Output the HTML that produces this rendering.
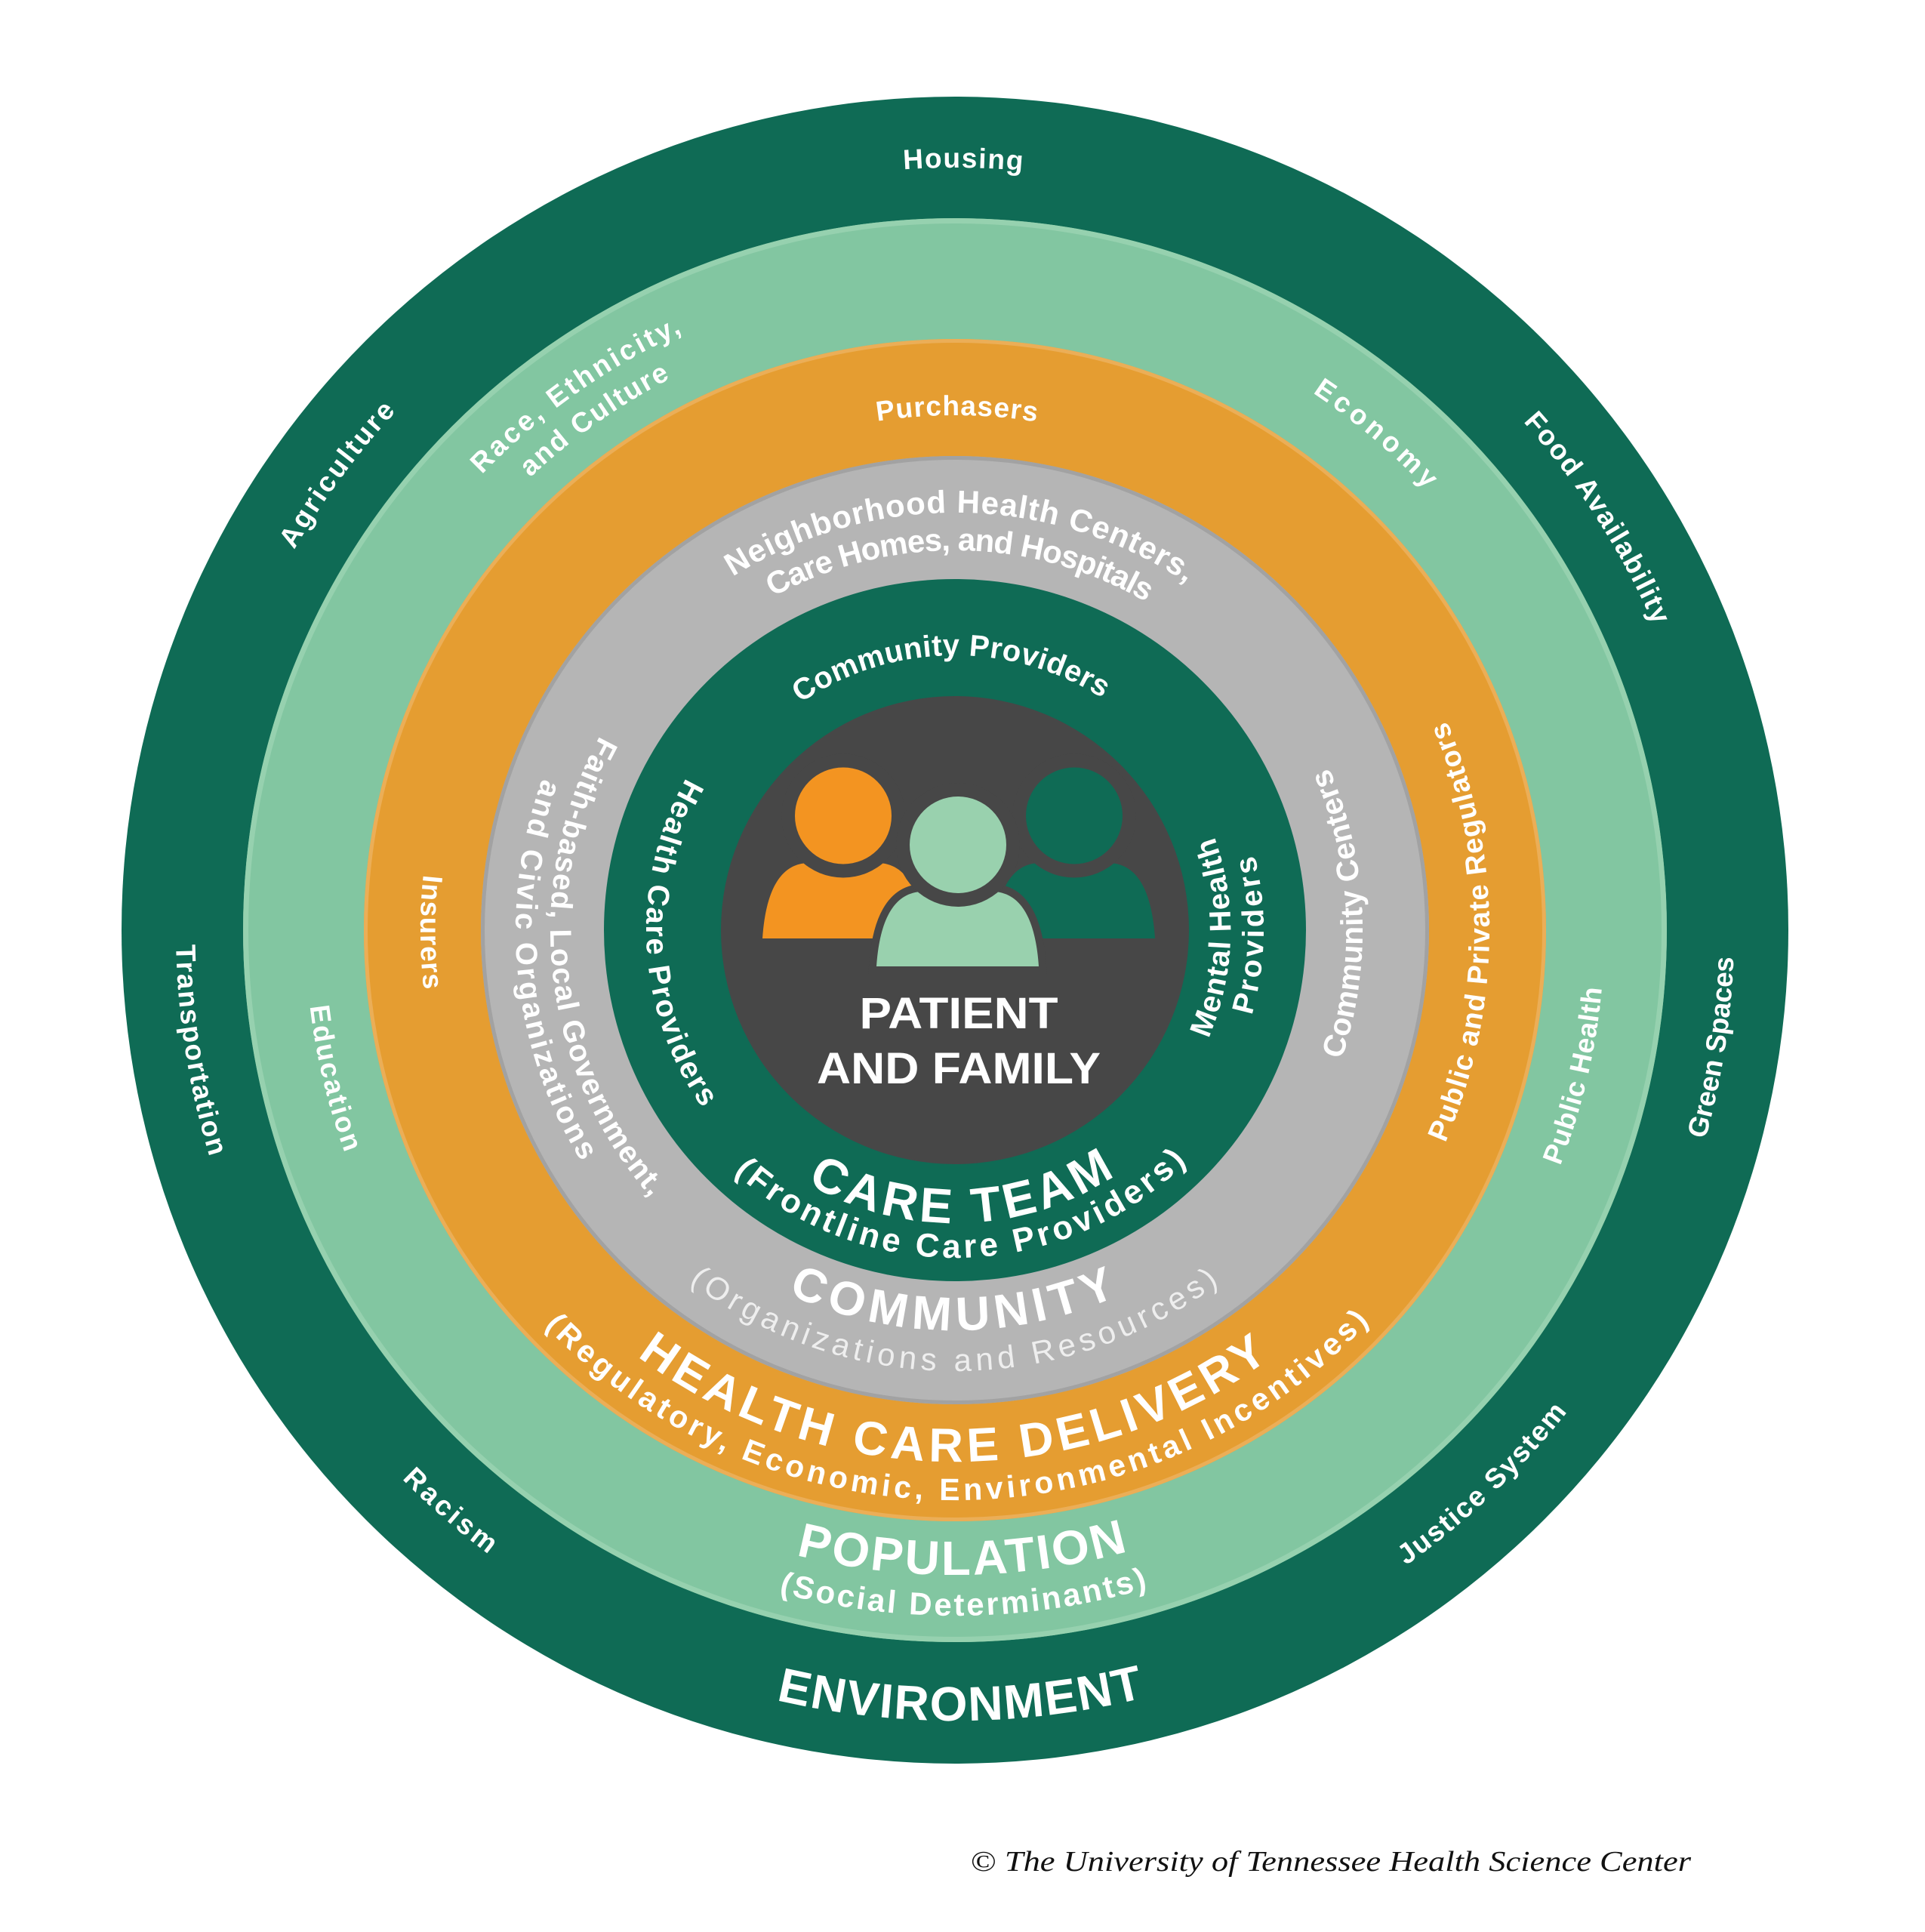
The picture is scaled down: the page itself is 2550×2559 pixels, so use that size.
<!DOCTYPE html>
<html>
<head>
<meta charset="utf-8">
<style>
  html, body { margin: 0; padding: 0; background: #ffffff; }
  svg { display: block; }
  .lbl { font-family: "Liberation Sans", Arial, sans-serif; font-weight: bold; fill: #ffffff; }
</style>
</head>
<body>
<svg width="2550" height="2559" viewBox="0 0 2550 2559" xmlns="http://www.w3.org/2000/svg">
  <rect x="0" y="0" width="2550" height="2559" fill="#ffffff"/>

  <defs>
    <!-- Top-style (clockwise, start at bottom; top = 50%) -->
    <path id="T1010" d="M1265,2242 A1010,1010 0 1,1 1265,222 A1010,1010 0 1,1 1265,2242"/>
    <path id="T870" d="M1265,2102 A870,870 0 1,1 1265,362 A870,870 0 1,1 1265,2102"/>
    <path id="T822" d="M1265,2054 A822,822 0 1,1 1265,410 A822,822 0 1,1 1265,2054"/>
    <path id="T855" d="M1265,2087 A855,855 0 1,1 1265,377 A855,855 0 1,1 1265,2087"/>
    <path id="T682" d="M1265,1914 A682,682 0 1,1 1265,550 A682,682 0 1,1 1265,1914"/>
    <path id="T553" d="M1265,1785 A553,553 0 1,1 1265,679 A553,553 0 1,1 1265,1785"/>
    <path id="T503" d="M1265,1735 A503,503 0 1,1 1265,729 A503,503 0 1,1 1265,1735"/>
    <path id="T364" d="M1265,1596 A364,364 0 1,1 1265,868 A364,364 0 1,1 1265,1596"/>

    <!-- Bottom-style (counter-clockwise, start at top; bottom = 50%) -->
    <path id="B1032" d="M1265,200 A1032,1032 0 1,0 1265,2264 A1032,1032 0 1,0 1265,200"/>
    <path id="B1047" d="M1265,185 A1047,1047 0 1,0 1265,2279 A1047,1047 0 1,0 1265,185"/>
    <path id="B908" d="M1265,324 A908,908 0 1,0 1265,2140 A908,908 0 1,0 1265,324"/>
    <path id="B860" d="M1265,372 A860,860 0 1,0 1265,2092 A860,860 0 1,0 1265,372"/>
    <path id="B854" d="M1265,378 A854,854 0 1,0 1265,2086 A854,854 0 1,0 1265,378"/>
    <path id="B755" d="M1265,477 A755,755 0 1,0 1265,1987 A755,755 0 1,0 1265,477"/>
    <path id="B708" d="M1265,524 A708,708 0 1,0 1265,1940 A708,708 0 1,0 1265,524"/>
    <path id="B704" d="M1265,528 A704,704 0 1,0 1265,1936 A704,704 0 1,0 1265,528"/>
    <path id="B584" d="M1265,648 A584,584 0 1,0 1265,1816 A584,584 0 1,0 1265,648"/>
    <path id="B582" d="M1265,650 A582,582 0 1,0 1265,1814 A582,582 0 1,0 1265,650"/>
    <path id="B540" d="M1265,692 A540,540 0 1,0 1265,1772 A540,540 0 1,0 1265,692"/>
    <path id="B536" d="M1265,696 A536,536 0 1,0 1265,1768 A536,536 0 1,0 1265,696"/>
    <path id="B530" d="M1265,702 A530,530 0 1,0 1265,1762 A530,530 0 1,0 1265,702"/>
    <path id="B434" d="M1265,798 A434,434 0 1,0 1265,1666 A434,434 0 1,0 1265,798"/>
    <path id="B409" d="M1265,823 A409,409 0 1,0 1265,1641 A409,409 0 1,0 1265,823"/>
    <path id="B388" d="M1265,844 A388,388 0 1,0 1265,1620 A388,388 0 1,0 1265,844"/>
    <path id="B365" d="M1265,867 A365,365 0 1,0 1265,1597 A365,365 0 1,0 1265,867"/>
  </defs>

  <!-- Rings -->
  <circle cx="1265" cy="1232" r="1104" fill="#0F6B55"/>
  <circle cx="1265" cy="1232" r="943" fill="#82C6A1"/>
  <circle cx="1265" cy="1232" r="939.5" fill="none" stroke="#96D1AF" stroke-width="7"/>
  <circle cx="1265" cy="1232" r="783" fill="#E59D31"/>
  <circle cx="1265" cy="1232" r="780.5" fill="none" stroke="#EBAE57" stroke-width="5"/>
  <circle cx="1265" cy="1232" r="628" fill="#B5B5B5"/>
  <circle cx="1265" cy="1232" r="625.5" fill="none" stroke="#A2A2A2" stroke-width="5"/>
  <circle cx="1265" cy="1232" r="465" fill="#0F6B55"/>
  <circle cx="1265" cy="1232" r="310" fill="#474747"/>

  <!-- People icons -->
  <path d="M1010,1243 C1014,1183 1032,1143 1072,1143 L1162,1143 C1202,1143 1220,1183 1224,1243 Z" fill="#F39421"/>
  <circle cx="1117" cy="1080.5" r="82" fill="#474747"/>
  <circle cx="1117" cy="1080.5" r="64" fill="#F39421"/>
  <path d="M1316,1243 C1320,1183 1338,1143 1378,1143 L1468,1143 C1508,1143 1526,1183 1530,1243 Z" fill="#0F6B55"/>
  <circle cx="1423" cy="1080.5" r="82" fill="#474747"/>
  <circle cx="1423" cy="1080.5" r="64" fill="#0F6B55"/>
  <path d="M1161,1280 C1165,1221 1183,1181 1223,1181 L1314,1181 C1354,1181 1372,1221 1376,1280 Z" fill="#99D1AE" stroke="#474747" stroke-width="20" paint-order="stroke"/>
  <circle cx="1269" cy="1119" r="82" fill="#474747"/>
  <circle cx="1269" cy="1119" r="64" fill="#99D1AE"/>

  <!-- Center text -->
  <text class="lbl" x="1270" y="1362" font-size="58" text-anchor="middle" textLength="263" lengthAdjust="spacingAndGlyphs">PATIENT</text>
  <text class="lbl" x="1270" y="1435" font-size="58" text-anchor="middle" textLength="376" lengthAdjust="spacingAndGlyphs">AND FAMILY</text>

  <!-- Outer ring labels -->
  <text class="lbl" font-size="37"><textPath href="#T1010" startOffset="50.17%" text-anchor="middle" textLength="158">Housing</textPath></text>
  <text class="lbl" font-size="37"><textPath href="#T1010" startOffset="35.11%" text-anchor="middle" textLength="228">Agriculture</textPath></text>
  <text class="lbl" font-size="37"><textPath href="#T1010" startOffset="65.92%" text-anchor="middle" textLength="322">Food Availability</textPath></text>
  <text class="lbl" font-size="37"><textPath href="#B1032" startOffset="27.5%" text-anchor="middle" textLength="285">Transportation</textPath></text>
  <text class="lbl" font-size="37"><textPath href="#B1032" startOffset="72.56%" text-anchor="middle" textLength="245">Green Spaces</textPath></text>
  <text class="lbl" font-size="37"><textPath href="#B1032" startOffset="38.61%" text-anchor="middle" textLength="152">Racism</textPath></text>
  <text class="lbl" font-size="37"><textPath href="#B1032" startOffset="62.11%" text-anchor="middle" textLength="296">Justice System</textPath></text>
  <text class="lbl" font-size="64"><textPath href="#B1047" startOffset="50.11%" text-anchor="middle" textLength="493">ENVIRONMENT</textPath></text>

  <!-- Light green ring labels -->
  <text class="lbl" font-size="37"><textPath href="#T870" startOffset="40.19%" text-anchor="middle" textLength="327">Race, Ethnicity,</textPath></text>
  <text class="lbl" font-size="37"><textPath href="#T822" startOffset="40.21%" text-anchor="middle" textLength="228">and Culture</textPath></text>
  <text class="lbl" font-size="37"><textPath href="#T855" startOffset="61.19%" text-anchor="middle" textLength="198">Economy</textPath></text>
  <text class="lbl" font-size="37"><textPath href="#B860" startOffset="28.72%" text-anchor="middle" textLength="200">Education</textPath></text>
  <text class="lbl" font-size="37"><textPath href="#B860" startOffset="71.33%" text-anchor="middle" textLength="243">Public Health</textPath></text>
  <text class="lbl" font-size="64"><textPath href="#B854" startOffset="50.18%" text-anchor="middle" textLength="445">POPULATION</textPath></text>
  <text class="lbl" font-size="42"><textPath href="#B908" startOffset="50.2%" text-anchor="middle" textLength="495">(Social Determinants)</textPath></text>

  <!-- Orange ring labels -->
  <text class="lbl" font-size="37"><textPath href="#T682" startOffset="50.06%" text-anchor="middle" textLength="212">Purchasers</textPath></text>
  <text class="lbl" font-size="37"><textPath href="#B708" startOffset="25.06%" text-anchor="middle" textLength="153">Insurers</textPath></text>
  <text class="lbl" font-size="38"><textPath href="#B708" startOffset="74.94%" text-anchor="middle" textLength="575">Public and Private Regulators</textPath></text>
  <text class="lbl" font-size="63"><textPath href="#B704" startOffset="49.94%" text-anchor="middle" textLength="897">HEALTH CARE DELIVERY</textPath></text>
  <text class="lbl" font-size="41"><textPath href="#B755" startOffset="50.08%" text-anchor="middle" textLength="1221">(Regulatory, Economic, Environmental Incentives)</textPath></text>

  <!-- Gray ring labels -->
  <text class="lbl" font-size="42"><textPath href="#T553" startOffset="50.22%" text-anchor="middle" textLength="636">Neighborhood Health Centers,</textPath></text>
  <text class="lbl" font-size="42"><textPath href="#T503" startOffset="50.22%" text-anchor="middle" textLength="517">Care Homes, and Hospitals</textPath></text>
  <text class="lbl" font-size="40"><textPath href="#B536" startOffset="26.75%" text-anchor="middle" textLength="655">Faith-based, Local Government,</textPath></text>
  <text class="lbl" font-size="40"><textPath href="#B582" startOffset="26.61%" text-anchor="middle" textLength="528">and Civic Organizations</textPath></text>
  <text class="lbl" font-size="41"><textPath href="#B540" startOffset="75.69%" text-anchor="middle" textLength="396">Community Centers</textPath></text>
  <text class="lbl" font-size="63"><textPath href="#B530" startOffset="49.9%" text-anchor="middle" textLength="450">COMMUNITY</textPath></text>
  <text font-family="Liberation Sans, Arial, sans-serif" font-weight="normal" fill="#EEEEEE" font-size="42"><textPath href="#B584" startOffset="49.96%" text-anchor="middle" textLength="753">(Organizations and Resources)</textPath></text>

  <!-- Inner dark green ring labels -->
  <text class="lbl" font-size="40"><textPath href="#T364" startOffset="49.75%" text-anchor="middle" textLength="424">Community Providers</textPath></text>
  <text class="lbl" font-size="40"><textPath href="#B409" startOffset="25.78%" text-anchor="middle" textLength="462">Health Care Providers</textPath></text>
  <text class="lbl" font-size="40"><textPath href="#B365" startOffset="74.53%" text-anchor="middle" textLength="274">Mental Health</textPath></text>
  <text class="lbl" font-size="40"><textPath href="#B409" startOffset="74.72%" text-anchor="middle" textLength="215">Providers</textPath></text>
  <text class="lbl" font-size="65"><textPath href="#B388" startOffset="50.39%" text-anchor="middle" textLength="430">CARE TEAM</textPath></text>
  <text class="lbl" font-size="44"><textPath href="#B434" startOffset="50.36%" text-anchor="middle" textLength="662">(Frontline Care Providers)</textPath></text>

  <!-- Copyright -->
  <text x="1286" y="2478" font-family="Liberation Serif, 'Times New Roman', serif" font-style="italic" font-size="38" fill="#111111" textLength="954" lengthAdjust="spacingAndGlyphs"><tspan font-style="normal">©</tspan> The University of Tennessee Health Science Center</text>
</svg>
</body>
</html>
